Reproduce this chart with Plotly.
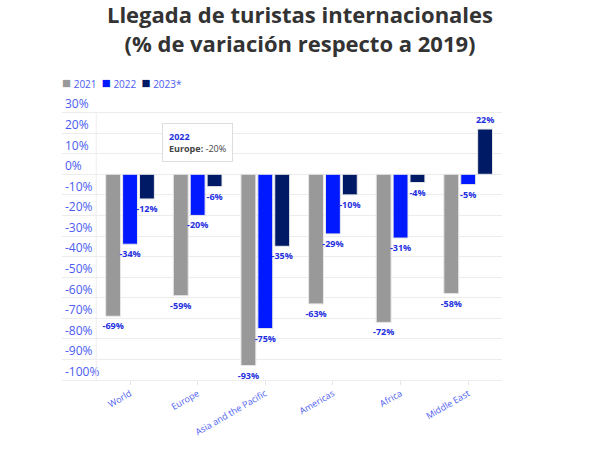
import plotly.graph_objects as go

regions = ["World", "Europe", "Asia and the Pacific", "Americas", "Africa", "Middle East"]
y2021 = [-69, -59, -93, -63, -72, -58]
y2022 = [-34, -20, -75, -29, -31, -5]
y2023 = [-12, -6, -35, -10, -4, 22]
y_ticks = list(range(-100, 31, 10))

series = [
    ("2021", y2021, "#999999"),
    ("2022", y2022, "#0019ff"),
    ("2023*", y2023, "#011a66"),
]

label_color = "#1f30e0"
axis_color = "#4b5cf2"

fig = go.Figure()
for name, vals, col in series:
    fig.add_trace(go.Bar(
        x=regions, y=vals, name=name,
        marker=dict(color=col, line=dict(color="#e8e8e8", width=1)),
        text=[f"{v}%" for v in vals], textposition="outside", cliponaxis=False,
        constraintext="none",
        textfont=dict(size=9, color=label_color, family="Open Sans", weight="bold"),
    ))

# legend drawn as one line of text, squares coloured per series
legend_txt = "  ".join(
    f"<span style='color:{col};font-size:15px'>■</span> {name}" for name, _, col in series
)
fig.add_annotation(
    xref="paper", yref="paper", x=-0.005, y=1.035, xanchor="left", yanchor="middle",
    text=legend_txt, showarrow=False, font=dict(size=10, color=axis_color, family="Open Sans"),
)

# tooltip shown over Europe 2022
fig.add_annotation(
    x=regions[1], y=0, yanchor="bottom", yshift=12, showarrow=False,
    text=f"<b><span style='color:#2233dd'>2022</span></b><br><b>{regions[1]}:</b> {y2022[1]}%",
    align="left", font=dict(size=9, color="#444444", family="Open Sans"),
    bgcolor="white", bordercolor="#dddddd", borderwidth=1, borderpad=6,
)

fig.add_shape(type="line", xref="x", yref="y", x0=-0.5, x1=-0.5,
              y0=y_ticks[0], y1=y_ticks[-1], line=dict(color="#eeeeee", width=1))

fig.update_layout(
    width=600, height=450,
    margin=dict(l=62, r=98, t=92, b=70),
    paper_bgcolor="white", plot_bgcolor="white",
    font=dict(family="Open Sans"),
    title=dict(text="<b>Llegada de turistas internacionales<br>(% de variación respecto a 2019)</b>",
               x=0.5, xref="container", xanchor="center", y=0.948, yanchor="top",
               font=dict(size=22, color="#333333", family="Open Sans")),
    barmode="group", bargap=0.25, bargroupgap=0.12,
    showlegend=False,
)
fig.update_xaxes(
    range=[-1.006, 5.5], tickangle=-30, tickfont=dict(size=9, color=axis_color),
    ticks="outside", ticklen=4, tickcolor="#e6e6e6", showgrid=False,
    showline=True, linecolor="#eeeeee", automargin=False,
)
fig.update_yaxes(
    range=[-100, 40], tickvals=y_ticks, ticktext=[f"{v}%" for v in y_ticks],
    ticklabelposition="inside top", tickfont=dict(size=12, color=axis_color),
    showgrid=True, gridcolor="#ececec", gridwidth=1, zeroline=False, automargin=False,
)

fig.write_html("out.html", config={"displayModeBar": False},
               post_script="document.body.style.margin='0';")
